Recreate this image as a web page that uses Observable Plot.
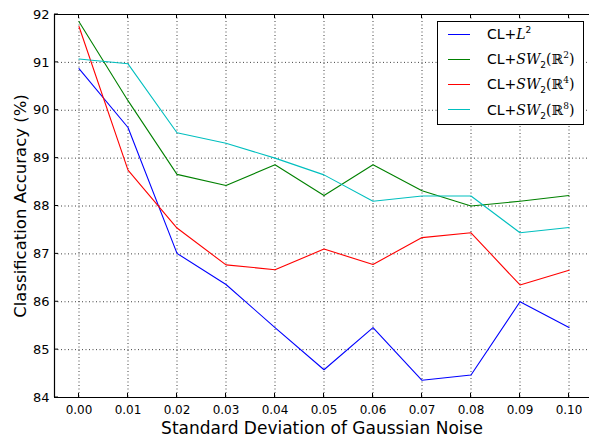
<!DOCTYPE html>
<html>
<head>
<meta charset="utf-8">
<script src="https://cdn.jsdelivr.net/npm/d3@7"></script>
<script src="https://cdn.jsdelivr.net/npm/@observablehq/plot@0.6"></script>
<style>
  html, body { margin: 0; padding: 0; background: #fff; }
  #wrap { position: relative; width: 589px; height: 440px; font-family: "DejaVu Sans", sans-serif; }
  #legend { position: absolute; left: 437px; top: 21px; width: 145px; height: 102px; border: 1px solid #000; background: #fff; }
  .row { position: absolute; left: 0; height: 20px; display: flex; align-items: center; }
  .sw { position: absolute; left: 10px; width: 22px; height: 0; border-top: 1.5px solid; }
  .lab { position: absolute; left: 49px; white-space: nowrap; font-size: 14px; color: #000; line-height: 20px; font-family: "DejaVu Sans", sans-serif; font-weight: normal; }
  .m { font-family: "DejaVu Serif", serif; font-style: italic; }
  .r { font-family: "DejaVu Serif", serif; font-style: normal; }
  sup, sub { font-size: 9px; line-height: 0; }
</style>
</head>
<body>
<div id="wrap"></div>
<script>
// ---- data ----
const noise = [0.00, 0.01, 0.02, 0.03, 0.04, 0.05, 0.06, 0.07, 0.08, 0.09, 0.10];
const seriesNames = ["CL+L2", "CL+SW2(R2)", "CL+SW2(R4)", "CL+SW2(R8)"];
const seriesColors = ["#0000ff", "#008000", "#ff0000", "#00bfbf"];
const accL2   = [90.87, 89.64, 87.01, 86.36, 85.46, 84.58, 85.46, 84.36, 84.47, 86.00, 85.46];
const accSWR2 = [91.85, 90.20, 88.66, 88.43, 88.86, 88.22, 88.86, 88.32, 88.00, 88.10, 88.22];
const accSWR4 = [91.75, 88.75, 87.54, 86.77, 86.67, 87.10, 86.78, 87.34, 87.44, 86.35, 86.66];
const accSWR8 = [91.07, 90.97, 89.53, 89.31, 89.00, 88.65, 88.10, 88.21, 88.21, 87.44, 87.55];
const xTicks = [0.00, 0.01, 0.02, 0.03, 0.04, 0.05, 0.06, 0.07, 0.08, 0.09, 0.10];
const yTicks = [84, 85, 86, 87, 88, 89, 90, 91, 92];
const xDomain = [-0.005, 0.10418];
const yDomain = [84, 92];
const xLabel = "Standard Deviation of Gaussian Noise";
const yLabel = "Classification Accuracy (%)";

const allSeries = [accL2, accSWR2, accSWR4, accSWR8];
const rows = [];
allSeries.forEach((vals, si) => vals.forEach((v, i) => rows.push({series: seriesNames[si], x: noise[i], y: v})));

const plot = Plot.plot({
  width: 589,
  height: 440,
  marginTop: 14,
  marginBottom: 43,
  marginLeft: 54,
  marginRight: 0,
  style: {fontFamily: "DejaVu Sans, sans-serif", background: "#fff", color: "#000"},
  x: {domain: xDomain, ticks: xTicks, tickFormat: d3.format(".2f"), label: null},
  y: {domain: yDomain, ticks: yTicks, label: null},
  color: {domain: seriesNames, range: seriesColors},
  marks: [
    Plot.gridX(xTicks, {stroke: "#000", strokeOpacity: 0.75, strokeDasharray: "1,2.5", strokeWidth: 1}),
    Plot.gridY(yTicks, {stroke: "#000", strokeOpacity: 0.75, strokeDasharray: "1,2.5", strokeWidth: 1}),
    Plot.line(rows, {x: "x", y: "y", z: "series", stroke: "series", strokeWidth: 1.1}),
    Plot.ruleY(yDomain, {stroke: "#000", strokeWidth: 1.2}),
    Plot.ruleX([xDomain[0]], {stroke: "#000", strokeWidth: 1.2}),
    Plot.axisX(xTicks, {tickSize: 0, tickPadding: 8, fontSize: 12, tickFormat: d3.format(".2f"), label: null}),
    Plot.axisY(yTicks, {tickSize: 0, tickPadding: 5, fontSize: 13, label: null}),
    Plot.text([xLabel], {frameAnchor: "bottom", dy: 36, text: d => d, fontSize: 17}),
    Plot.text([yLabel], {frameAnchor: "left", textAnchor: "middle", dx: -34, rotate: -90, text: d => d, fontSize: 16.5})
  ]
});

document.getElementById("wrap").appendChild(plot);

// inward ticks on all sides (via plot scales)
const sx = plot.scale("x"), sy = plot.scale("y");
const svg = d3.select(plot);
const [yb, yt] = sy.range; // bottom, top
const [xl, xr] = sx.range;
const tg = svg.append("g").attr("stroke", "#000").attr("stroke-width", 1);
xTicks.forEach(t => {
  const px = sx.apply(t);
  tg.append("line").attr("x1", px).attr("x2", px).attr("y1", yb).attr("y2", yb - 4);
  tg.append("line").attr("x1", px).attr("x2", px).attr("y1", yt).attr("y2", yt + 4);
});
yTicks.forEach(t => {
  const py = sy.apply(t);
  tg.append("line").attr("x1", xl).attr("x2", xl + 4).attr("y1", py).attr("y2", py);
});

// legend
const legendHTML = [
  'CL+<span class="m">L</span><sup>2</sup>',
  'CL+<span class="m">SW</span><sub>2</sub><span class="r">(ℝ<sup>2</sup>)</span>',
  'CL+<span class="m">SW</span><sub>2</sub><span class="r">(ℝ<sup>4</sup>)</span>',
  'CL+<span class="m">SW</span><sub>2</sub><span class="r">(ℝ<sup>8</sup>)</span>'
];
const leg = document.createElement("div");
leg.id = "legend";
seriesNames.forEach((n, i) => {
  const row = document.createElement("div");
  row.className = "row";
  row.style.top = (2 + i * 25.2) + "px";
  row.style.width = "145px";
  row.innerHTML = `<span class="sw" style="border-color:${seriesColors[i]}"></span><span class="lab">${legendHTML[i]}</span>`;
  leg.appendChild(row);
});
document.getElementById("wrap").appendChild(leg);
</script>
</body>
</html>
